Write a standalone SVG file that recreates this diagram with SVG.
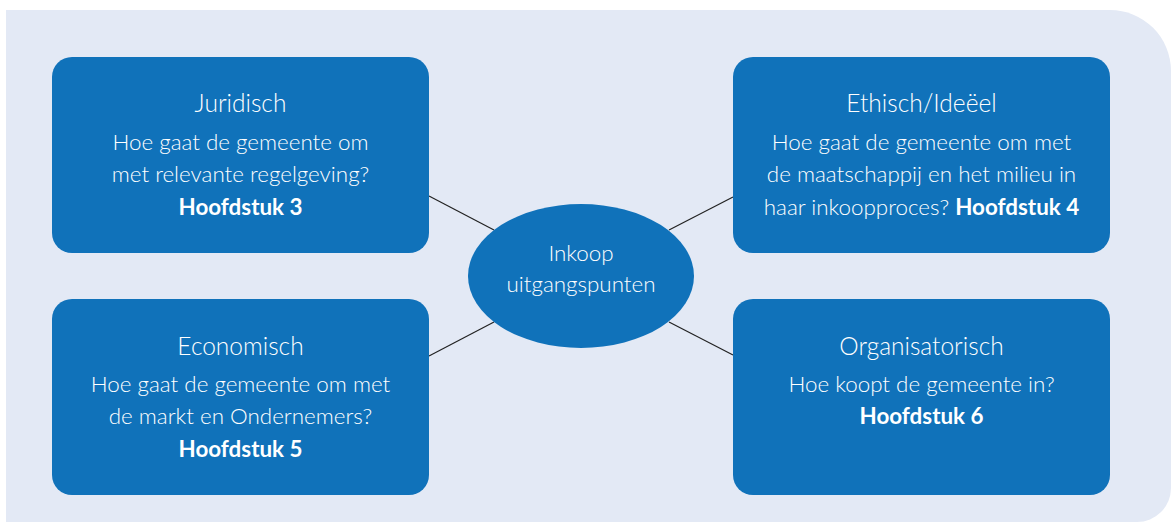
<svg xmlns="http://www.w3.org/2000/svg" width="1171" height="522" viewBox="0 0 1171 522">
<style>
.bg{fill:#e3e9f5}
.box{fill:#1072ba}
.t{font-family:Lato,"Open Sans","Liberation Sans",sans-serif;font-weight:300;fill:#fff;text-anchor:middle}
.h{font-size:24.5px}
.b{font-size:22.4px}
.bold{font-weight:700}
.c line{stroke:#222;stroke-width:1.2}
</style>
<path class="bg" d="M6 10 H1110 A61 61 0 0 1 1171 71 V488 A34 34 0 0 1 1137 522 H6 Z"/>
<g class="c">
<line x1="429" y1="196" x2="494" y2="230"/>
<line x1="669" y1="230" x2="733" y2="197"/>
<line x1="494" y1="322" x2="429" y2="356"/>
<line x1="669" y1="322" x2="733" y2="355"/>
</g>
<g id="juridisch">
<rect class="box" x="52" y="57" width="377" height="196" rx="20"/>
<text class="t h" x="240.5" y="112">Juridisch</text>
<text class="t b" x="240.5" y="150">Hoe gaat de gemeente om</text>
<text class="t b" x="240.5" y="182">met relevante regelgeving?</text>
<text class="t b bold" x="240.5" y="215">Hoofdstuk 3</text>
</g>
<g id="ethisch">
<rect class="box" x="733" y="57" width="377" height="196" rx="20"/>
<text class="t h" x="921.5" y="112">Ethisch/Ideëel</text>
<text class="t b" x="921.5" y="150">Hoe gaat de gemeente om met</text>
<text class="t b" x="921.5" y="182">de maatschappij en het milieu in</text>
<text class="t b" x="921.5" y="215">haar inkoopproces? <tspan class="bold">Hoofdstuk 4</tspan></text>
</g>
<g id="economisch">
<rect class="box" x="52" y="299" width="377" height="196" rx="20"/>
<text class="t h" x="240.5" y="355">Economisch</text>
<text class="t b" x="240.5" y="392">Hoe gaat de gemeente om met</text>
<text class="t b" x="240.5" y="424">de markt en Ondernemers?</text>
<text class="t b bold" x="240.5" y="457">Hoofdstuk 5</text>
</g>
<g id="organisatorisch">
<rect class="box" x="733" y="299" width="377" height="196" rx="20"/>
<text class="t h" x="921.5" y="355">Organisatorisch</text>
<text class="t b" x="921.5" y="392">Hoe koopt de gemeente in?</text>
<text class="t b bold" x="921.5" y="424">Hoofdstuk 6</text>
</g>
<g id="center">
<ellipse class="box" cx="581" cy="276" rx="113" ry="72"/>
<text class="t b" x="581" y="261">Inkoop</text>
<text class="t b" x="581" y="292">uitgangspunten</text>
</g>
</svg>
